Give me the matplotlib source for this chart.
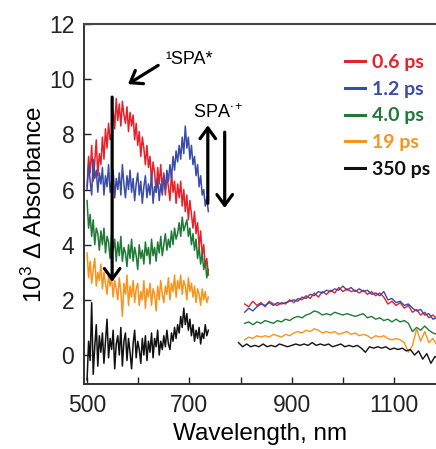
import numpy as np
import matplotlib
matplotlib.use("Agg")
import matplotlib.pyplot as plt
from matplotlib.lines import Line2D

plt.rcParams['font.family'] = ['Liberation Sans', 'DejaVu Sans']
plt.rcParams['mathtext.fontset'] = 'custom'
plt.rcParams['mathtext.rm'] = 'Liberation Sans'
plt.rcParams['mathtext.it'] = 'Liberation Sans:italic'
plt.rcParams['mathtext.bf'] = 'Liberation Sans:bold'

# wavelength grids (nm): visible block and near-IR block
vis_wl = np.arange(500, 738, 3)
nir_wl = np.arange(808, 1185, 8)
nir_wl_late = np.arange(796, 1189, 8)

delays = ['0.6 ps', '1.2 ps', '4.0 ps', '19 ps', '350 ps']
colors = ['#e8202a', '#3b4ba8', '#1f7a36', '#f7941d', '#111111']

# transient spectra, 10^3 dA  (visible rows are 30 nm each)
red_vis = [6.1, 7.2, 6.6, 7.6, 6.3, 7.0, 7.8, 6.5, 7.3, 6.9,
           7.9, 7.1, 8.2, 7.5, 8.4, 7.8, 8.0, 8.9, 8.2, 9.3,
           8.5, 9.1, 8.3, 9.2, 8.7, 8.4, 9.0, 8.1, 8.8, 8.3,
           8.7, 7.8, 8.4, 7.6, 8.1, 7.2, 7.9, 7.5, 6.9, 7.6,
           6.8, 7.2, 6.3, 7.0, 6.6, 5.9, 6.8, 6.2, 6.9, 6.0,
           6.6, 5.8, 6.5, 6.1, 5.6, 6.6, 5.9, 6.3, 5.5, 6.2,
           5.7, 6.3, 5.4, 6.0, 5.2, 5.8, 4.9, 5.6, 5.1, 4.6,
           5.2, 4.4, 4.8, 3.9, 4.5, 3.6, 4.0, 3.2, 3.5, 2.9]
blue_vis = [6.0, 6.9, 6.3, 5.8, 7.1, 6.4, 6.7, 5.9, 6.6, 6.2,
            6.8, 5.8, 6.5, 6.1, 6.9, 5.9, 6.3, 6.7, 5.7, 6.4,
            6.0, 6.6, 5.8, 6.9, 6.2, 5.7, 6.5, 6.0, 6.7, 5.9,
            6.4, 5.6, 6.2, 6.6, 5.8, 6.3, 5.5, 6.1, 6.5, 5.7,
            6.2, 5.8, 6.6, 5.5, 6.1, 5.9, 6.4, 5.6, 6.2, 5.8,
            6.5, 6.0, 6.7, 6.3, 6.9, 6.4, 7.2, 6.7, 7.4, 7.0,
            7.6, 7.1, 7.9, 7.3, 8.3, 7.5, 7.9, 7.1, 7.6, 6.9,
            7.2, 6.5, 6.9, 6.1, 6.5, 5.8, 6.0, 5.4, 5.7, 5.2]
green_vis = [5.6, 4.6, 5.1, 4.3, 4.9, 4.0, 4.6, 4.4, 3.8, 4.5,
             4.0, 4.6, 3.7, 4.3, 4.1, 3.5, 4.4, 3.8, 4.2, 3.4,
             4.1, 3.6, 4.3, 3.4, 3.9, 3.7, 3.2, 4.0, 3.5, 4.2,
             3.4, 3.9, 3.6, 3.1, 4.0, 3.5, 3.8, 3.3, 4.1, 3.6,
             3.9, 3.3, 4.2, 3.6, 3.9, 3.4, 4.1, 3.7, 4.3, 3.6,
             4.0, 4.4, 3.8, 4.2, 3.9, 4.5, 4.0, 4.6, 4.2, 4.4,
             4.8, 4.3, 5.0, 4.5, 4.7, 4.9, 4.3, 4.6, 4.0, 4.4,
             3.8, 4.2, 3.5, 3.9, 3.3, 3.7, 3.1, 3.4, 2.8, 3.1]
orange_vis = [3.7, 2.8, 3.4, 2.6, 3.1, 3.5, 2.5, 3.0, 2.7, 3.3,
              2.4, 3.0, 2.6, 2.2, 2.9, 2.5, 2.8, 2.1, 2.7, 2.4,
              2.0, 2.8, 2.3, 1.4, 2.6, 2.2, 2.9, 1.8, 2.5, 2.1,
              2.7, 1.9, 2.4, 2.6, 1.8, 2.3, 2.0, 2.7, 1.7, 2.4,
              2.1, 2.6, 1.8, 2.4, 2.2, 1.6, 2.5, 2.0, 2.7, 2.2,
              1.9, 2.5, 2.2, 2.8, 2.0, 2.6, 2.3, 2.9, 2.1, 2.7,
              2.4, 2.9, 2.2, 2.7, 2.5, 2.0, 2.8, 2.3, 2.6, 2.1,
              2.5, 1.9, 2.4, 2.2, 1.8, 2.4, 2.0, 2.3, 1.9, 2.1]
black_vis = [-0.9, 0.5, -0.2, 1.9, -0.7, 0.3, 1.1, -0.4, 0.7, 0.1,
             0.8, -0.3, 0.5, 1.3, -0.1, 0.6, 0.2, 0.9, -0.5, 0.4,
             0.7, 0.0, 1.0, -0.4, 0.5, 0.8, -0.2, 0.6, 0.1, -0.5,
             0.4, 0.9, -0.1, 0.5, 0.2, -0.3, 0.6, 0.0, 0.7, -0.2,
             0.5, 0.1, 0.8, -0.1, 0.6, 0.3, 0.9, 0.0, 0.5, 0.2,
             0.7, 0.3, 0.9, 0.4, 0.2, 0.8, 0.5, 1.0, 0.6, 1.1,
             0.8, 1.4, 1.0, 1.7, 1.1, 1.5, 0.9, 1.3, 0.7, 1.1,
             0.5, 0.9, 0.6, 1.0, 0.4, 0.8, 0.6, 1.1, 0.7, 0.9]

red_nir = [1.85, 1.75, 1.95, 1.80, 1.90, 1.75, 1.95, 1.85, 1.80, 1.90,
           1.85, 2.00, 1.90, 2.05, 2.00, 2.15, 2.05, 2.25, 2.10, 2.30,
           2.20, 2.35, 2.25, 2.45, 2.30, 2.40, 2.30, 2.35, 2.25, 2.35,
           2.20, 2.30, 2.15, 2.25, 2.10, 1.85, 1.95, 1.80, 1.90, 1.70,
           1.80, 1.55, 1.65, 1.45, 1.55, 1.35, 1.45, 1.30]
blue_nir = [1.55, 1.70, 1.60, 1.75, 1.85, 1.80, 1.90, 1.80, 1.90, 1.85,
            1.90, 1.95, 2.00, 1.95, 2.10, 2.05, 2.20, 2.15, 2.30, 2.25,
            2.35, 2.30, 2.40, 2.35, 2.50, 2.35, 2.45, 2.30, 2.40, 2.30,
            2.35, 2.20, 2.25, 2.15, 2.30, 2.00, 2.05, 1.90, 1.95, 1.80,
            1.85, 1.70, 1.60, 1.65, 1.45, 1.50, 1.30, 1.35]
green_nir = [1.15, 1.20, 1.10, 1.20, 1.15, 1.25, 1.20, 1.15, 1.25, 1.20,
             1.30, 1.25, 1.35, 1.40, 1.35, 1.45, 1.50, 1.60, 1.55, 1.45,
             1.50, 1.45, 1.55, 1.50, 1.45, 1.50, 1.45, 1.40, 1.45, 1.50,
             1.35, 1.40, 1.30, 1.35, 1.25, 1.30, 1.20, 1.30, 1.20, 1.25,
             1.15, 0.85, 1.00, 0.90, 1.05, 0.90, 0.80, 0.75]
orange_nir = [0.55, 0.65, 0.60, 0.70, 0.65, 0.70, 0.65, 0.75, 0.70, 0.65,
              0.75, 0.70, 0.80, 0.85, 0.80, 0.90, 0.85, 0.95, 0.90, 0.80,
              0.85, 0.80, 0.85, 0.75, 0.80, 0.85, 0.75, 0.80, 0.70, 0.75,
              0.70, 0.60, 0.70, 0.65, 0.70, 0.60, 0.55, 0.60, 0.55, 0.45,
              0.10, 0.35, 0.95, 0.50, 0.85, 0.45, 0.60, 0.35]
black_nir = [0.45, 0.30, 0.40, 0.30, 0.35, 0.30, 0.40, 0.30, 0.35, 0.30,
             0.40, 0.35, 0.30, 0.35, 0.40, 0.35, 0.40, 0.35, 0.45, 0.35,
             0.40, 0.35, 0.40, 0.30, 0.35, 0.40, 0.30, 0.35, 0.30, 0.35,
             0.25, 0.10, 0.30, 0.25, 0.30, 0.25, 0.30, 0.20, 0.25, 0.20,
             0.25, 0.15, 0.20, 0.00, 0.15, -0.15, 0.05, -0.30, -0.05, -0.15]

vis_series = [red_vis, blue_vis, green_vis, orange_vis, black_vis]
nir_series = [red_nir, blue_nir, green_nir, orange_nir, black_nir]
nir_grids = [nir_wl, nir_wl, nir_wl, nir_wl, nir_wl_late]

fig = plt.figure(figsize=(4.36, 4.49), dpi=100)
# the original is cropped on the right, so the axes end at the figure edge
ax = fig.add_axes([84 / 436, 65 / 449, 352 / 436, 360 / 449])

for vis, nir, grid, c in zip(vis_series, nir_series, nir_grids, colors):
    ax.plot(vis_wl, vis, color=c, lw=1.1)
    ax.plot(grid, nir, color=c, lw=1.0)

ax.set_xlim(494, 1182)
ax.set_ylim(-1.05, 12)
ax.set_xticks(np.arange(500, 1101, 100))
ax.set_xticklabels(['500', '', '700', '', '900', '', '1100'])
ax.set_yticks(np.arange(0, 13, 2))
ax.tick_params(direction='in', length=5, width=1, labelsize=16.5, pad=7,
               colors='#222222')
ax.spines['right'].set_visible(False)
for side in ['left', 'bottom', 'top']:
    ax.spines[side].set_visible(True)
    ax.spines[side].set_color('#333333')
    ax.spines[side].set_linewidth(1.4)

# top frame edge drawn at figure level as well, along the axes' top
top = ax.get_position().y1
fig.add_artist(Line2D([ax.get_position().x0, 1.0], [top, top],
                      transform=fig.transFigure, color='#444444', lw=1.5))

ax.set_xlabel('Wavelength, nm', fontsize=17.5, labelpad=4.5)
ax.set_ylabel('10$^3$ Δ Absorbance', fontsize=17.5, labelpad=1)

# annotations
arrow = dict(arrowstyle='->,head_length=0.55,head_width=0.4', lw=2.3,
             color='black', shrinkA=0, shrinkB=0, mutation_scale=14)
ax.annotate('', xy=(549, 2.65), xytext=(549, 9.35), arrowprops=arrow, zorder=10)
ax.annotate('', xy=(580, 9.82), xytext=(639, 10.5), arrowprops=arrow, zorder=10)
ax.annotate('', xy=(736, 8.33), xytext=(736, 5.5), arrowprops=arrow, zorder=10)
ax.annotate('', xy=(769, 5.33), xytext=(769, 8.08), arrowprops=arrow, zorder=10)
ax.text(652, 10.7, '¹SPA*', fontsize=13, ha='left', va='center')
ax.text(707, 8.8, r'SPA$^{\bullet+}$', fontsize=13, ha='left', va='center')

handles = [Line2D([], [], color=c, lw=2.2) for c in colors]
ax.legend(handles, delays, loc='upper left', bbox_to_anchor=(345 / 436, 395 / 449),
          bbox_transform=fig.transFigure, frameon=False, borderpad=0, borderaxespad=0,
          handlelength=1.03, handletextpad=0.36, labelspacing=0.5, labelcolor='linecolor',
          prop={'family': 'Lato', 'weight': 'bold', 'size': 14})

fig.savefig('out.png', dpi=100)
